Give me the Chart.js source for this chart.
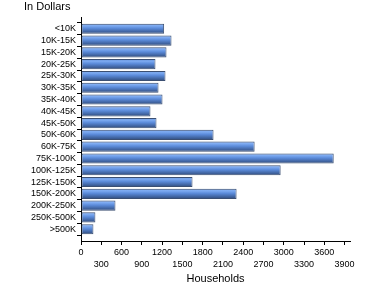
<!DOCTYPE html>
<html lang="en">

<head>
    <meta charset="UTF-8">
    <title>Households by income</title>
    <script src="https://cdn.jsdelivr.net/npm/chart.js@4/dist/chart.umd.min.js"></script>
    <style>
        html, body { margin: 0; padding: 0; background: #ffffff; }
        #wrap { width: 370px; height: 300px; }
    </style>
</head>

<body>
    <div id="wrap"><canvas id="canvas"></canvas></div>
</body>

<script>
    const incomeBands = ["<10K", "10K-15K", "15K-20K", "20K-25K", "25K-30K", "30K-35K", "35K-40K",
        "40K-45K", "45K-50K", "50K-60K", "60K-75K", "75K-100K", "100K-125K", "125K-150K",
        "150K-200K", "200K-250K", "250K-500K", ">500K"];
    const households = [1230, 1339, 1265, 1102, 1250, 1147, 1206, 1028, 1117, 1961,
        2569, 3739, 2954, 1650, 2302, 510, 213, 184];
    const xTicks = [0, 300, 600, 900, 1200, 1500, 1800, 2100, 2400, 2700, 3000, 3300, 3600, 3900];

    // empty slots at both ends give the half-row gap above and below the bars
    const labels = [""].concat(incomeBands, [""]);
    const values = [null].concat(households, [null]);

    const barPct = 0.86;
    const font = "'Liberation Sans', Arial, sans-serif";

    function barFill(c) {
        const y = c.chart.scales && c.chart.scales.y;
        if (c.type !== "data" || !y || !y.height) return "#5a8ad8";
        const py = y.getPixelForValue(c.dataIndex);
        const half = Math.abs(y.getPixelForValue(1) - y.getPixelForValue(0)) * barPct / 2;
        const g = c.chart.ctx.createLinearGradient(0, py - half, 0, py + half);
        g.addColorStop(0, "#4f79c0");
        g.addColorStop(0.18, "#80adf3");
        g.addColorStop(0.45, "#5b8bda");
        g.addColorStop(1, "#2f4a7a");
        return g;
    }

    const captionPlugin = {
        id: "caption",
        afterDraw(chart) {
            const ctx = chart.ctx;
            ctx.save();
            ctx.fillStyle = "#000000";
            ctx.font = "11px " + font;
            ctx.textBaseline = "middle";
            ctx.fillText("In Dollars", 24, 6.5);
            ctx.restore();
        }
    };

    new Chart(document.getElementById("canvas"), {
        type: "bar",
        data: {
            labels: labels,
            datasets: [{
                data: values,
                backgroundColor: barFill,
                borderColor: "#3b4f72",
                borderWidth: 1,
                borderSkipped: false,
                barPercentage: barPct,
                categoryPercentage: 1
            }]
        },
        options: {
            indexAxis: "y",
            responsive: true,
            maintainAspectRatio: false,
            animation: false,
            layout: { padding: { top: 17, right: 20, bottom: 0, left: 0 } },
            plugins: {
                legend: { display: false },
                tooltip: { enabled: false }
            },
            scales: {
                x: {
                    type: "linear",
                    min: 0,
                    max: 3980,
                    afterBuildTicks: (scale) => {
                        scale.ticks = xTicks.map(v => ({ value: v }));
                    },
                    afterFit: (scale) => { scale.height = 59; },
                    border: { display: true, color: "#000000", width: 1 },
                    grid: { drawOnChartArea: false, tickLength: 4, color: "#000000" },
                    ticks: {
                        autoSkip: false,
                        maxRotation: 0,
                        minRotation: 0,
                        padding: 1,
                        color: "#000000",
                        font: { family: font, size: 9, lineHeight: 1.4 },
                        callback: (value, index) => index % 2 === 0 ? String(value) : ["", String(value)]
                    },
                    title: {
                        display: true,
                        text: "Households",
                        color: "#000000",
                        font: { family: font, size: 11 },
                        padding: { top: 0, bottom: 14 }
                    }
                },
                y: {
                    type: "category",
                    offset: false,
                    afterFit: (scale) => { scale.width = 81; },
                    border: { display: true, color: "#000000", width: 1 },
                    grid: { drawOnChartArea: false, tickLength: 4, color: "#000000" },
                    ticks: {
                        autoSkip: false,
                        padding: 1,
                        color: "#000000",
                        font: { family: font, size: 9 }
                    }
                }
            }
        },
        plugins: [captionPlugin]
    });
</script>

</html>
